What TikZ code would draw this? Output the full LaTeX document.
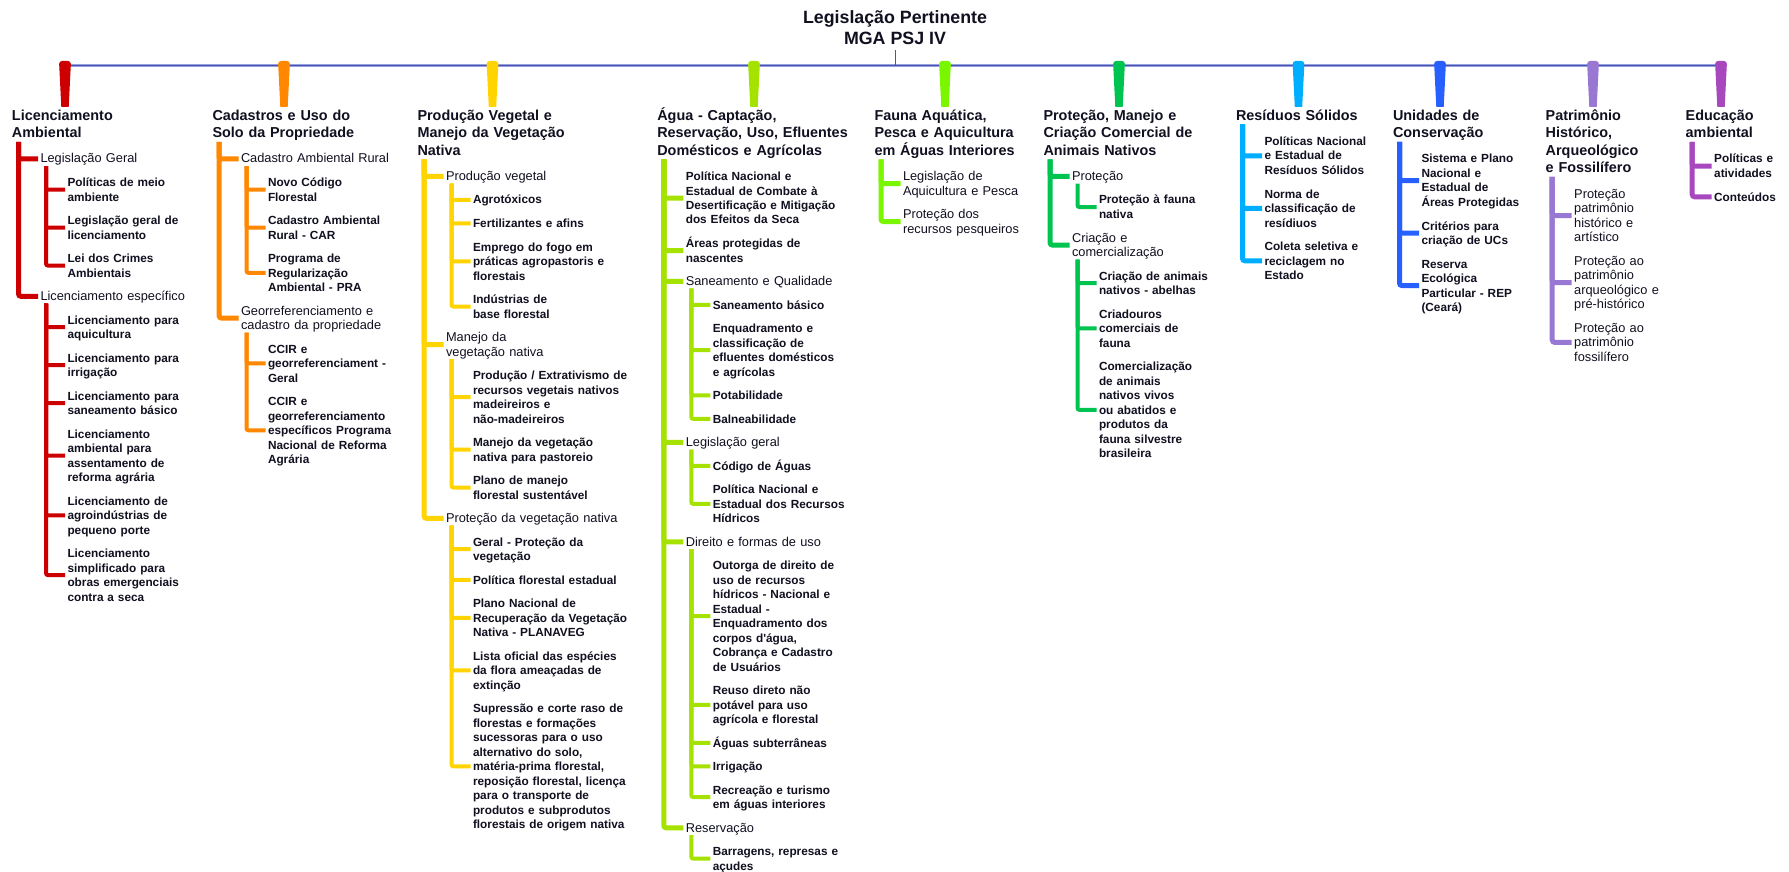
\documentclass[tikz,border=0pt]{standalone}
\usepackage{fontspec}
\setmainfont{Liberation Sans}
\usetikzlibrary{calc}
\definecolor{cA}{RGB}{204,0,0}
\definecolor{cB}{RGB}{255,136,0}
\definecolor{cC}{RGB}{255,212,0}
\definecolor{cD}{RGB}{166,226,0}
\definecolor{cE}{RGB}{122,246,0}
\definecolor{cF}{RGB}{0,196,80}
\definecolor{cG}{RGB}{0,174,255}
\definecolor{cH}{RGB}{40,96,255}
\definecolor{cI}{RGB}{152,120,210}
\definecolor{cJ}{RGB}{168,72,190}
\definecolor{barc}{RGB}{72,84,176}
\definecolor{barl}{RGB}{150,160,225}
\definecolor{txt}{RGB}{16,16,32}
\newcommand\istrut{\rule[-3.1pt]{0pt}{14.5pt}}
\newcommand\hstrut{\rule[-4pt]{0pt}{17.5pt}}
\newcommand\tstrut{\rule[-5pt]{0pt}{21pt}}
\newcommand\mkn[5]{\node[#1] (#2) at ($(#3.south -| #4)+(0,9)$) {#5};}
\newcommand\mkf[5]{\node[#1] (#2) at ($(#3.south -| #4)+(0,9.6)$) {#5};}
\newcommand\mkc[4]{\draw[#1] (#2.south -| #3) |- ([xshift=-2.5pt]#4.west);}
\newcommand\mktag[2]{\fill[#2] (#1-3.7,107) [rounded corners=3pt] -- (#1-6,61) -- (#1+6,61) [sharp corners] -- (#1+3.7,107) -- cycle;}
\tikzset{
 nbase/.style={inner sep=0pt, outer sep=0pt, text=txt, align=left, text width=260pt, anchor=north west},
 hd/.style={nbase, font=\fontsize{14.4}{17.5}\selectfont\bfseries, execute at begin node=\hstrut, execute at end node=\hstrut},
 nd/.style={nbase, font=\fontsize{12.8}{14.5}\selectfont, execute at begin node=\istrut, execute at end node=\istrut},
 lf/.style={nbase, font=\fontsize{11.8}{14.5}\selectfont\bfseries, execute at begin node=\istrut, execute at end node=\istrut},
 la/.style={draw=#1, line width=5pt, rounded corners=2.5pt},
 lb/.style={draw=#1, line width=4pt, rounded corners=2pt},
}
\begin{document}
\begin{tikzpicture}[x=1pt,y=-1pt]
\fill[white] (0,0) rectangle (1789,872);
\useasboundingbox (0,0) rectangle (1789,872);
% title and bar
\node[font=\fontsize{17.8}{21}\selectfont\bfseries, text=txt, align=center, inner sep=0pt, anchor=north] (title) at (895,7.5) {\tstrut Legislação Pertinente\\MGA PSJ IV\tstrut};
\coordinate (barL) at (65,65.5);
\coordinate (barR) at (1721,65.5);
\draw[barl, line width=3.5pt] (barL) -- (barR);
\draw[barc, line width=1.6pt] (barL) -- (barR);
\draw[barc, line width=1pt] (title.south) -- (title.south |- barL);
\mktag{65}{cA}
\mktag{284}{cB}
\mktag{492.5}{cC}
\mktag{754}{cD}
\mktag{945}{cE}
\mktag{1119}{cF}
\mktag{1298.5}{cG}
\mktag{1440}{cH}
\mktag{1593}{cI}
\mktag{1721}{cJ}
% column coordinates
\coordinate (aT1) at (18.5,0); \coordinate (aX2) at (40.5,0); \coordinate (aT2) at (46,0); \coordinate (aX3) at (67.5,0);
\coordinate (bT1) at (219,0); \coordinate (bX2) at (241,0); \coordinate (bT2) at (246.5,0); \coordinate (bX3) at (268,0);
\coordinate (cT1) at (424,0); \coordinate (cX2) at (446,0); \coordinate (cT2) at (451.5,0); \coordinate (cX3) at (473,0);
\coordinate (dT1) at (663.8,0); \coordinate (dX2) at (685.8,0); \coordinate (dT2) at (691.3,0); \coordinate (dX3) at (712.8,0);
\coordinate (eT1) at (881,0); \coordinate (eX2) at (903,0);
\coordinate (fT1) at (1050,0); \coordinate (fX2) at (1072,0); \coordinate (fT2) at (1077.5,0); \coordinate (fX3) at (1099,0);
\coordinate (gT1) at (1242.5,0); \coordinate (gX2) at (1264.5,0);
\coordinate (hT1) at (1399.5,0); \coordinate (hX2) at (1421.5,0);
\coordinate (iT1) at (1552.2,0); \coordinate (iX2) at (1574.2,0);
\coordinate (jT1) at (1692.2,0); \coordinate (jX2) at (1714.2,0);
% headings
\node[hd] (hA) at (12,107) {Licenciamento\\Ambiental};
\node[hd] (hB) at (212.5,107) {Cadastros e Uso do\\Solo da Propriedade};
\node[hd] (hC) at (417.5,107) {Produção Vegetal e\\Manejo da Vegetação\\Nativa};
\node[hd] (hD) at (657.3,107) {Água - Captação,\\Reservação, Uso, Efluentes\\Domésticos e Agrícolas};
\node[hd] (hE) at (874.5,107) {Fauna Aquática,\\Pesca e Aquicultura\\em Águas Interiores};
\node[hd] (hF) at (1043.5,107) {Proteção, Manejo e\\Criação Comercial de\\Animais Nativos};
\node[hd] (hG) at (1236,107) {Resíduos Sólidos};
\node[hd] (hH) at (1393,107) {Unidades de\\Conservação};
\node[hd] (hI) at (1545.7,107) {Patrimônio\\Histórico,\\Arqueológico\\e Fossilífero};
\node[hd] (hJ) at (1685.7,107) {Educação\\ambiental};
% column A
\mkf{nd}{a1}{hA}{aX2}{Legislação Geral}
\mkn{lf}{a11}{a1}{aX3}{Políticas de meio\\ambiente}
\mkn{lf}{a12}{a11}{aX3}{Legislação geral de\\licenciamento}
\mkn{lf}{a13}{a12}{aX3}{Lei dos Crimes\\Ambientais}
\mkn{nd}{a2}{a13}{aX2}{Licenciamento específico}
\mkn{lf}{a21}{a2}{aX3}{Licenciamento para\\aquicultura}
\mkn{lf}{a22}{a21}{aX3}{Licenciamento para\\irrigação}
\mkn{lf}{a23}{a22}{aX3}{Licenciamento para\\saneamento básico}
\mkn{lf}{a24}{a23}{aX3}{Licenciamento\\ambiental para\\assentamento de\\reforma agrária}
\mkn{lf}{a25}{a24}{aX3}{Licenciamento de\\agroindústrias de\\pequeno porte}
\mkn{lf}{a26}{a25}{aX3}{Licenciamento\\simplificado para\\obras emergenciais\\contra a seca}
\mkc{la=cA}{hA}{aT1}{a1}
\mkc{la=cA}{hA}{aT1}{a2}
\mkc{lb=cA}{a1}{aT2}{a11}
\mkc{lb=cA}{a1}{aT2}{a12}
\mkc{lb=cA}{a1}{aT2}{a13}
\mkc{lb=cA}{a2}{aT2}{a21}
\mkc{lb=cA}{a2}{aT2}{a22}
\mkc{lb=cA}{a2}{aT2}{a23}
\mkc{lb=cA}{a2}{aT2}{a24}
\mkc{lb=cA}{a2}{aT2}{a25}
\mkc{lb=cA}{a2}{aT2}{a26}
% column B
\mkf{nd}{b1}{hB}{bX2}{Cadastro Ambiental Rural}
\mkn{lf}{b11}{b1}{bX3}{Novo Código\\Florestal}
\mkn{lf}{b12}{b11}{bX3}{Cadastro Ambiental\\Rural - CAR}
\mkn{lf}{b13}{b12}{bX3}{Programa de\\Regularização\\Ambiental - PRA}
\mkn{nd}{b2}{b13}{bX2}{Georreferenciamento e\\cadastro da propriedade}
\mkn{lf}{b21}{b2}{bX3}{CCIR e\\georreferenciament -\\Geral}
\mkn{lf}{b22}{b21}{bX3}{CCIR e\\georreferenciamento\\específicos Programa\\Nacional de Reforma\\Agrária}
\mkc{la=cB}{hB}{bT1}{b1}
\mkc{la=cB}{hB}{bT1}{b2}
\mkc{lb=cB}{b1}{bT2}{b11}
\mkc{lb=cB}{b1}{bT2}{b12}
\mkc{lb=cB}{b1}{bT2}{b13}
\mkc{lb=cB}{b2}{bT2}{b21}
\mkc{lb=cB}{b2}{bT2}{b22}
% column C
\mkf{nd}{c1}{hC}{cX2}{Produção vegetal}
\mkn{lf}{c11}{c1}{cX3}{Agrotóxicos}
\mkn{lf}{c12}{c11}{cX3}{Fertilizantes e afins}
\mkn{lf}{c13}{c12}{cX3}{Emprego do fogo em\\práticas agropastoris e\\florestais}
\mkn{lf}{c14}{c13}{cX3}{Indústrias de\\base florestal}
\mkn{nd}{c2}{c14}{cX2}{Manejo da\\vegetação nativa}
\mkn{lf}{c21}{c2}{cX3}{Produção / Extrativismo de\\recursos vegetais nativos\\madeireiros e\\não-madeireiros}
\mkn{lf}{c22}{c21}{cX3}{Manejo da vegetação\\nativa para pastoreio}
\mkn{lf}{c23}{c22}{cX3}{Plano de manejo\\florestal sustentável}
\mkn{nd}{c3}{c23}{cX2}{Proteção da vegetação nativa}
\mkn{lf}{c31}{c3}{cX3}{Geral - Proteção da\\vegetação}
\mkn{lf}{c32}{c31}{cX3}{Política florestal estadual}
\mkn{lf}{c33}{c32}{cX3}{Plano Nacional de\\Recuperação da Vegetação\\Nativa - PLANAVEG}
\mkn{lf}{c34}{c33}{cX3}{Lista oficial das espécies\\da flora ameaçadas de\\extinção}
\mkn{lf}{c35}{c34}{cX3}{Supressão e corte raso de\\florestas e formações\\sucessoras para o uso\\alternativo do solo,\\matéria-prima florestal,\\reposição florestal, licença\\para o transporte de\\produtos e subprodutos\\florestais de origem nativa}
\mkc{la=cC}{hC}{cT1}{c1}
\mkc{la=cC}{hC}{cT1}{c2}
\mkc{la=cC}{hC}{cT1}{c3}
\mkc{lb=cC}{c1}{cT2}{c11}
\mkc{lb=cC}{c1}{cT2}{c12}
\mkc{lb=cC}{c1}{cT2}{c13}
\mkc{lb=cC}{c1}{cT2}{c14}
\mkc{lb=cC}{c2}{cT2}{c21}
\mkc{lb=cC}{c2}{cT2}{c22}
\mkc{lb=cC}{c2}{cT2}{c23}
\mkc{lb=cC}{c3}{cT2}{c31}
\mkc{lb=cC}{c3}{cT2}{c32}
\mkc{lb=cC}{c3}{cT2}{c33}
\mkc{lb=cC}{c3}{cT2}{c34}
\mkc{lb=cC}{c3}{cT2}{c35}
% column D
\mkf{lf}{d1}{hD}{dX2}{Política Nacional e\\Estadual de Combate à\\Desertificação e Mitigação\\dos Efeitos da Seca}
\mkn{lf}{d2}{d1}{dX2}{Áreas protegidas de\\nascentes}
\mkn{nd}{d3}{d2}{dX2}{Saneamento e Qualidade}
\mkn{lf}{d31}{d3}{dX3}{Saneamento básico}
\mkn{lf}{d32}{d31}{dX3}{Enquadramento e\\classificação de\\efluentes domésticos\\e agrícolas}
\mkn{lf}{d33}{d32}{dX3}{Potabilidade}
\mkn{lf}{d34}{d33}{dX3}{Balneabilidade}
\mkn{nd}{d4}{d34}{dX2}{Legislação geral}
\mkn{lf}{d41}{d4}{dX3}{Código de Águas}
\mkn{lf}{d42}{d41}{dX3}{Política Nacional e\\Estadual dos Recursos\\Hídricos}
\mkn{nd}{d5}{d42}{dX2}{Direito e formas de uso}
\mkn{lf}{d51}{d5}{dX3}{Outorga de direito de\\uso de recursos\\hídricos - Nacional e\\Estadual -\\Enquadramento dos\\corpos d\textquotesingle água,\\Cobrança e Cadastro\\de Usuários}
\mkn{lf}{d52}{d51}{dX3}{Reuso direto não\\potável para uso\\agrícola e florestal}
\mkn{lf}{d53}{d52}{dX3}{Águas subterrâneas}
\mkn{lf}{d54}{d53}{dX3}{Irrigação}
\mkn{lf}{d55}{d54}{dX3}{Recreação e turismo\\em águas interiores}
\mkn{nd}{d6}{d55}{dX2}{Reservação}
\mkn{lf}{d61}{d6}{dX3}{Barragens, represas e\\açudes}
\mkc{la=cD}{hD}{dT1}{d1}
\mkc{la=cD}{hD}{dT1}{d2}
\mkc{la=cD}{hD}{dT1}{d3}
\mkc{la=cD}{hD}{dT1}{d4}
\mkc{la=cD}{hD}{dT1}{d5}
\mkc{la=cD}{hD}{dT1}{d6}
\mkc{lb=cD}{d3}{dT2}{d31}
\mkc{lb=cD}{d3}{dT2}{d32}
\mkc{lb=cD}{d3}{dT2}{d33}
\mkc{lb=cD}{d3}{dT2}{d34}
\mkc{lb=cD}{d4}{dT2}{d41}
\mkc{lb=cD}{d4}{dT2}{d42}
\mkc{lb=cD}{d5}{dT2}{d51}
\mkc{lb=cD}{d5}{dT2}{d52}
\mkc{lb=cD}{d5}{dT2}{d53}
\mkc{lb=cD}{d5}{dT2}{d54}
\mkc{lb=cD}{d5}{dT2}{d55}
\mkc{lb=cD}{d6}{dT2}{d61}
% column E
\mkf{nd}{e1}{hE}{eX2}{Legislação de\\Aquicultura e Pesca}
\mkn{nd}{e2}{e1}{eX2}{Proteção dos\\recursos pesqueiros}
\mkc{la=cE}{hE}{eT1}{e1}
\mkc{la=cE}{hE}{eT1}{e2}
% column F
\mkf{nd}{f1}{hF}{fX2}{Proteção}
\mkn{lf}{f11}{f1}{fX3}{Proteção à fauna\\nativa}
\mkn{nd}{f2}{f11}{fX2}{Criação e\\comercialização}
\mkn{lf}{f21}{f2}{fX3}{Criação de animais\\nativos - abelhas}
\mkn{lf}{f22}{f21}{fX3}{Criadouros\\comerciais de\\fauna}
\mkn{lf}{f23}{f22}{fX3}{Comercialização\\de animais\\nativos vivos\\ou abatidos e\\produtos da\\fauna silvestre\\brasileira}
\mkc{la=cF}{hF}{fT1}{f1}
\mkc{la=cF}{hF}{fT1}{f2}
\mkc{lb=cF}{f1}{fT2}{f11}
\mkc{lb=cF}{f2}{fT2}{f21}
\mkc{lb=cF}{f2}{fT2}{f22}
\mkc{lb=cF}{f2}{fT2}{f23}
% column G
\mkf{lf}{g1}{hG}{gX2}{Políticas Nacional\\e Estadual de\\Resíduos Sólidos}
\mkn{lf}{g2}{g1}{gX2}{Norma de\\classificação de\\resídiuos}
\mkn{lf}{g3}{g2}{gX2}{Coleta seletiva e\\reciclagem no\\Estado}
\mkc{la=cG}{hG}{gT1}{g1}
\mkc{la=cG}{hG}{gT1}{g2}
\mkc{la=cG}{hG}{gT1}{g3}
% column H
\mkf{lf}{h1}{hH}{hX2}{Sistema e Plano\\Nacional e\\Estadual de\\Áreas Protegidas}
\mkn{lf}{h2}{h1}{hX2}{Critérios para\\criação de UCs}
\mkn{lf}{h3}{h2}{hX2}{Reserva\\Ecológica\\Particular - REP\\(Ceará)}
\mkc{la=cH}{hH}{hT1}{h1}
\mkc{la=cH}{hH}{hT1}{h2}
\mkc{la=cH}{hH}{hT1}{h3}
% column I
\mkf{nd}{i1}{hI}{iX2}{Proteção\\patrimônio\\histórico e\\artístico}
\mkn{nd}{i2}{i1}{iX2}{Proteção ao\\patrimônio\\arqueológico e\\pré-histórico}
\mkn{nd}{i3}{i2}{iX2}{Proteção ao\\patrimônio\\fossilífero}
\mkc{la=cI}{hI}{iT1}{i1}
\mkc{la=cI}{hI}{iT1}{i2}
\mkc{la=cI}{hI}{iT1}{i3}
% column J
\mkf{lf}{j1}{hJ}{jX2}{Políticas e\\atividades}
\mkn{lf}{j2}{j1}{jX2}{Conteúdos}
\mkc{la=cJ}{hJ}{jT1}{j1}
\mkc{la=cJ}{hJ}{jT1}{j2}
\end{tikzpicture}
\end{document}
